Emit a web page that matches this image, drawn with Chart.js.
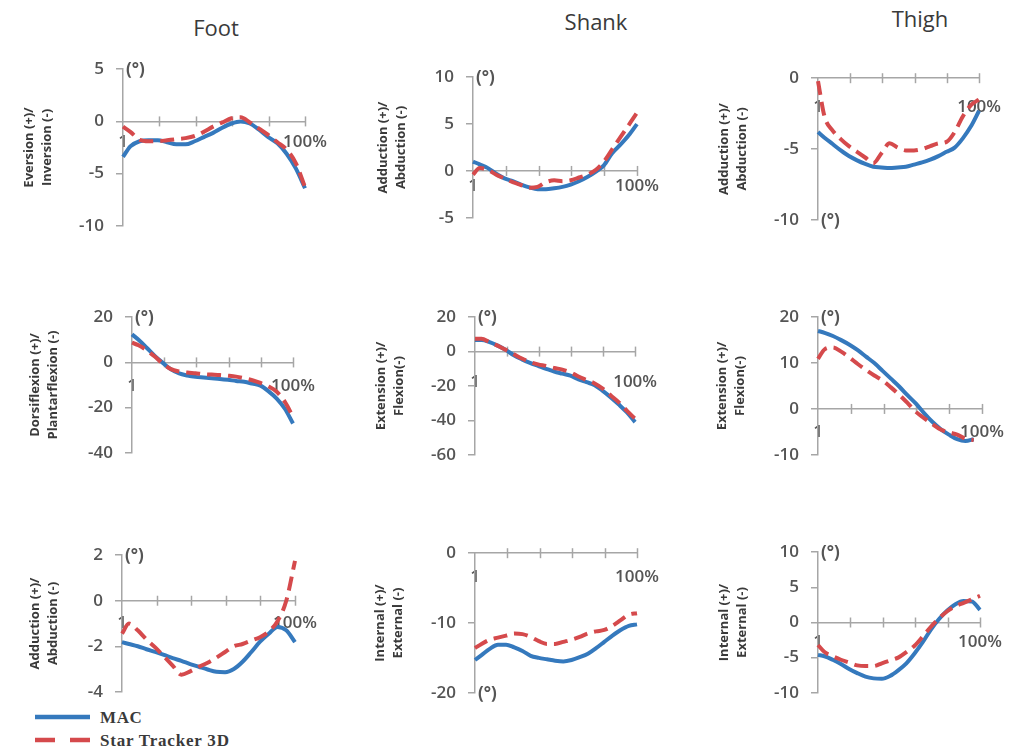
<!DOCTYPE html>
<html>
<head>
<meta charset="utf-8">
<script src="https://cdn.jsdelivr.net/npm/chart.js@4.4.0/dist/chart.umd.min.js"></script>
<style>
  body { margin: 0; width: 1016px; height: 748px; background: #fff; position: relative; overflow: hidden; font-family: 'Open Sans', sans-serif; }
  .col-title { position: absolute; font-size: 22px; line-height: 22px; color: #3a3a3a; transform: translateX(-50%); white-space: nowrap; }
  canvas.panel { position: absolute; }
  #legend { position: absolute; left: 0; top: 700px; }
</style>
</head>
<body>
<div class="col-title" style="left:216px; top:16px">Foot</div>
<div class="col-title" style="left:596px; top:10px">Shank</div>
<div class="col-title" style="left:920px; top:7px">Thigh</div>

<svg id="legend" width="260" height="48">
  <line x1="35" y1="17" x2="90" y2="17" stroke="#3579bd" stroke-width="4.5"/>
  <text x="100" y="23" font-family="Liberation Serif" font-weight="bold" font-size="17" letter-spacing="0.6" fill="#3a3a3a">MAC</text>
  <line x1="35" y1="40" x2="90" y2="40" stroke="#d54a4c" stroke-width="4.5" stroke-dasharray="20 15"/>
  <text x="100" y="46" font-family="Liberation Serif" font-weight="bold" font-size="17" letter-spacing="0.8" fill="#3a3a3a">Star Tracker 3D</text>
</svg>

<script>
// % of cycle (shared x values)
const pct = [1, 5, 10, 15, 20, 25, 30, 35, 40, 45, 50, 55, 60, 65, 70, 75, 80, 85, 90, 95, 100];
const xTickLabels = ['1', '', '', '', '', '100%'];
const seriesNames = ['MAC', 'Star Tracker 3D'];

// Foot
const footEversionTicks = [-10, -5, 0, 5];
const footEversionMAC  = [-3.4, -2.4, -1.9, -1.8, -1.8, -2.0, -2.2, -2.2, -1.9, -1.5, -1.1, -0.6, -0.2, 0, -0.2, -0.8, -1.5, -2.1, -3.1, -4.5, -6.4];
const footEversionStar = [-0.5, -1.0, -1.75, -1.9, -1.9, -1.8, -1.7, -1.6, -1.4, -1.0, -0.5, -0.1, 0.3, 0.4, -0.1, -0.7, -1.3, -2.0, -2.7, -4.0, -6.3];

const footDorsiTicks = [-40, -20, 0, 20];
const footDorsiMAC  = [12.4, 10.0, 6.5, 2.9, -0.2, -3.1, -4.9, -5.8, -6.4, -6.7, -7.0, -7.3, -7.7, -8.2, -8.6, -9.4, -10.3, -12.8, -16.0, -20.5, -27.0];
const footDorsiStar = [8.7, 7.6, 5.4, 2.6, -0.6, -3.0, -4.0, -4.5, -4.8, -5.2, -5.4, -5.6, -5.9, -6.3, -7.0, -7.9, -9.1, -10.7, -13.0, -17.5, -24.0];

const footAdductTicks = [-4, -2, 0, 2];
const footAdductMAC  = [-1.82, -1.9, -2.0, -2.13, -2.25, -2.38, -2.52, -2.64, -2.78, -2.9, -3.02, -3.12, -3.14, -3.0, -2.68, -2.25, -1.8, -1.45, -1.15, -1.3, -1.82];
const footAdductStar = [-1.45, -1.0, -1.3, -1.7, -2.05, -2.45, -2.85, -3.25, -3.1, -2.9, -2.72, -2.5, -2.25, -2.0, -1.9, -1.75, -1.6, -1.35, -0.9, 0.0, 1.75];

// Shank
const shankAdductTicks = [-5, 0, 5, 10];
const shankAdductMAC  = [1.0, 0.7, 0.3, -0.3, -0.8, -1.1, -1.45, -1.75, -1.95, -1.95, -1.85, -1.7, -1.45, -1.1, -0.65, -0.1, 0.6, 1.9, 2.8, 3.8, 5.0];
const shankAdductStar = [-0.4, 0.3, 0.1, -0.4, -0.8, -1.2, -1.5, -1.8, -1.7, -1.2, -1.0, -1.1, -1.0, -0.7, -0.4, 0.1, 1.0, 2.3, 3.6, 4.9, 6.2];

const shankExtTicks = [-60, -40, -20, 0, 20];
const shankExtMAC  = [6.7, 6.7, 5.5, 3.5, 1.0, -2.1, -4.5, -6.6, -8.3, -10.0, -11.6, -12.8, -14.0, -16.2, -17.8, -19.5, -22.8, -26.6, -30.8, -35.4, -41.0];
const shankExtStar = [7.5, 7.5, 5.5, 3.5, 1.0, -1.5, -4.0, -6.0, -7.4, -8.3, -9.5, -10.5, -12.0, -14.5, -16.5, -18.5, -21.5, -25.5, -29.5, -34.5, -39.0];

const shankIntTicks = [-20, -10, 0];
const shankIntMAC  = [-15.3, -14.6, -13.7, -13.1, -13.1, -13.5, -14.0, -14.7, -15.0, -15.2, -15.4, -15.5, -15.3, -14.9, -14.4, -13.6, -12.7, -11.8, -11.0, -10.4, -10.2];
const shankIntStar = [-13.6, -13.0, -12.4, -12.1, -11.8, -11.5, -11.6, -12.0, -12.6, -13.0, -13.0, -12.7, -12.4, -12.0, -11.5, -11.2, -11.0, -10.4, -9.6, -8.8, -8.6];

// Thigh
const thighAdductTicks = [-10, -5, 0];
const thighAdductMAC  = [-3.8, -4.2, -4.65, -5.1, -5.5, -5.8, -6.05, -6.25, -6.3, -6.35, -6.3, -6.25, -6.1, -5.95, -5.75, -5.5, -5.2, -4.9, -4.25, -3.4, -2.3];
const thighAdductStar = [-0.2, -2.7, -3.7, -4.3, -4.8, -5.2, -5.6, -6.0, -5.3, -4.6, -4.9, -5.1, -5.1, -5.0, -4.8, -4.6, -4.5, -3.8, -2.7, -1.9, -1.5];

const thighExtTicks = [-10, 0, 10, 20];
const thighExtMAC  = [17.0, 16.6, 15.9, 15.0, 14.0, 12.8, 11.4, 10.0, 8.3, 6.6, 4.9, 3.0, 1.2, -0.9, -2.8, -4.4, -5.6, -6.6, -7.0, -6.6, null];
const thighExtStar = [10.9, 13.0, 13.4, 12.5, 11.2, 9.8, 8.5, 7.3, 6.2, 4.7, 3.1, 1.3, -0.6, -2.0, -3.3, -4.5, -5.1, -5.6, -6.5, -6.8, null];

const thighIntTicks = [-10, -5, 0, 5, 10];
const thighIntMAC  = [-4.6, -4.8, -5.3, -5.9, -6.6, -7.2, -7.7, -7.95, -8.0, -7.6, -6.8, -5.8, -4.4, -2.8, -1.0, 0.5, 1.7, 2.6, 3.05, 3.0, 1.8];
const thighIntStar = [-3.2, -4.2, -4.8, -5.3, -5.7, -6.1, -6.2, -6.2, -5.8, -5.4, -5.0, -4.2, -3.3, -2.0, -0.6, 0.6, 1.6, 2.3, 2.8, 3.3, 3.8];

// layout of each small chart (chart area corners in page pixels)
const panels = [
  { left: 123, right: 305, top: 69,  bottom: 226, ticks: footEversionTicks, mac: footEversionMAC, star: footEversionStar, title: ['Eversion (+)/', 'Inversion (-)'], unit: 'top', xPad: 11, titleOff: 94 },
  { left: 473, right: 637, top: 77,  bottom: 218, ticks: shankAdductTicks, mac: shankAdductMAC, star: shankAdductStar, title: ['Adduction (+)/', 'Abduction (-)'], unit: 'top', xPad: 5, titleOff: 90 },
  { left: 818, right: 980, top: 78,  bottom: 220, ticks: thighAdductTicks, mac: thighAdductMAC, star: thighAdductStar, title: ['Adduction (+)/', 'Abduction (-)'], unit: 'bottom', xPad: 19, titleOff: 94 },
  { left: 132, right: 293, top: 317, bottom: 453, ticks: footDorsiTicks, mac: footDorsiMAC, star: footDorsiStar, title: ['Dorsiflexion (+)/', 'Plantarflexion (-)'], unit: 'top', xPad: 14, titleOff: 97 },
  { left: 475, right: 637, top: 317, bottom: 455, ticks: shankExtTicks, mac: shankExtMAC, star: shankExtStar, title: ['Extension (+)/', 'Flexion(-)'], unit: 'top', xPad: 20, titleOff: 94 },
  { left: 818, right: 982, top: 317, bottom: 455, ticks: thighExtTicks, mac: thighExtMAC, star: thighExtStar, title: ['Extension (+)/', 'Flexion(-)'], unit: 'top', xPad: 13, titleOff: 96 },
  { left: 122, right: 295, top: 555, bottom: 692, ticks: footAdductTicks, mac: footAdductMAC, star: footAdductStar, title: ['Adduction (+)/', 'Abduction (-)'], unit: 'top', xPad: 12, titleOff: 87 },
  { left: 475, right: 637, top: 553, bottom: 693, ticks: shankIntTicks, mac: shankIntMAC, star: shankIntStar, title: ['Internal (+)/', 'External (-)'], unit: 'bottom', xPad: 14, titleOff: 95 },
  { left: 818, right: 980, top: 552, bottom: 693, ticks: thighIntTicks, mac: thighIntMAC, star: thighIntStar, title: ['Internal (+)/', 'External (-)'], unit: 'top', xPad: 9, titleOff: 94 }
];

const AXIS_W = 110, PAD_T = 22, PAD_B = 22, PAD_R = 40;
const TITLE_LH = 18;
const BLUE = '#3579bd', RED = '#d54a4c', GREY = '#a6a6a6', LABEL = '#555555';
const xTickValues = xTickLabels.map((_, i) => 1 + i * 99 / (xTickLabels.length - 1));

// cross-shaped x ticks and the "(°)" unit label
const axisExtras = {
  id: 'axisExtras',
  beforeDatasetsDraw(chart, args, opts) {
    const { ctx, chartArea } = chart;
    const xs = chart.scales.x, ys = chart.scales.y;
    const y0 = ys.getPixelForValue(0);
    ctx.save();
    ctx.strokeStyle = GREY;
    ctx.lineWidth = 1.5;
    xTickValues.slice(1).forEach(v => {
      const px = Math.round(xs.getPixelForValue(v)) + 0.5;
      ctx.beginPath();
      ctx.moveTo(px, y0 - 5);
      ctx.lineTo(px, y0 + 5);
      ctx.stroke();
    });
    ctx.fillStyle = LABEL;
    ctx.font = 'bold 17px "Open Sans"';
    ctx.textAlign = 'left';
    ctx.textBaseline = 'middle';
    const uy = opts.unit === 'top' ? chartArea.top : chartArea.bottom;
    ctx.fillText('(°)', chartArea.left + 3, uy + 1);
    ctx.restore();
  }
};

panels.forEach(p => {
  const cv = document.createElement('canvas');
  cv.className = 'panel';
  const w = p.right - p.left + AXIS_W + PAD_R;
  const h = p.bottom - p.top + PAD_T + PAD_B;
  cv.width = w; cv.height = h;
  cv.style.left = (p.left - AXIS_W) + 'px';
  cv.style.top = (p.top - PAD_T) + 'px';
  cv.style.width = w + 'px';
  cv.style.height = h + 'px';
  document.body.appendChild(cv);

  const yMin = Math.min(...p.ticks), yMax = Math.max(...p.ticks);

  new Chart(cv.getContext('2d'), {
    type: 'line',
    data: {
      datasets: [
        {
          label: seriesNames[1],
          data: pct.map((x, i) => ({ x: x, y: p.star[i] })),
          borderColor: RED,
          borderWidth: 4,
          borderDash: [14, 7],
          pointRadius: 0,
          cubicInterpolationMode: 'monotone',
          clip: 8
        },
        {
          label: seriesNames[0],
          data: pct.map((x, i) => ({ x: x, y: p.mac[i] })),
          borderColor: BLUE,
          borderWidth: 4,
          pointRadius: 0,
          cubicInterpolationMode: 'monotone',
          clip: 8
        }
      ]
    },
    options: {
      responsive: false,
      animation: false,
      events: [],
      layout: { padding: { top: PAD_T, bottom: PAD_B, right: PAD_R, left: 0 } },
      plugins: {
        legend: { display: false },
        tooltip: { enabled: false },
        axisExtras: { unit: p.unit }
      },
      scales: {
        x: {
          type: 'linear',
          min: 1,
          max: 100,
          position: { y: 0 },
          afterFit: s => { s.height = 0; },
          afterBuildTicks: s => { s.ticks = xTickValues.map(v => ({ value: v })); },
          grid: { display: false, drawTicks: false },
          border: { display: true, color: GREY, width: 1.5 },
          ticks: {
            autoSkip: false,
            maxRotation: 0,
            padding: p.xPad,
            color: LABEL,
            font: { family: 'Open Sans', size: 17, weight: '600' },
            callback: (v, i) => xTickLabels[i]
          }
        },
        y: {
          min: yMin,
          max: yMax,
          afterFit: s => { s.width = AXIS_W; },
          grid: { drawOnChartArea: false, drawTicks: true, tickLength: 7, color: GREY, lineWidth: 1.5 },
          border: { display: true, color: GREY, width: 1.5 },
          ticks: {
            stepSize: p.ticks[1] - p.ticks[0],
            padding: 12,
            color: LABEL,
            font: { family: 'Open Sans', size: 17, weight: '600' }
          },
          title: {
            display: true,
            text: p.title,
            color: '#3a3a3a',
            font: { family: 'Open Sans', size: 13, weight: 'bold', lineHeight: TITLE_LH / 13 },
            padding: { top: AXIS_W - p.titleOff - TITLE_LH / 2, bottom: 0 }
          }
        }
      }
    },
    plugins: [axisExtras]
  });
});
</script>
</body>
</html>
